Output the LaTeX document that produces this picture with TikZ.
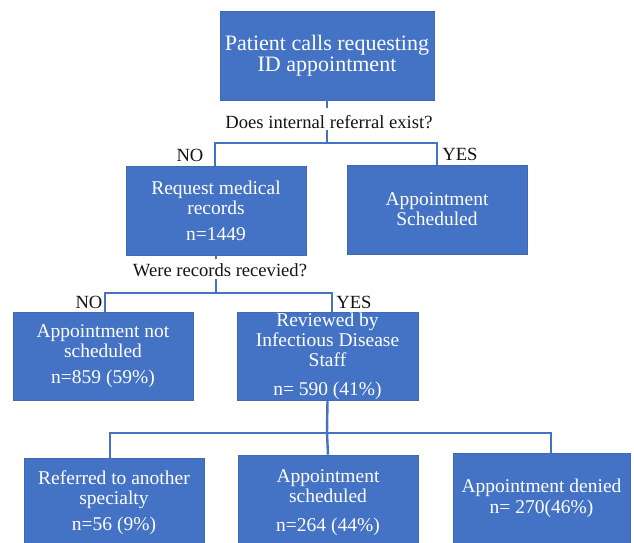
\documentclass[tikz,border=0pt]{standalone}
\usepackage{fontspec}
\setmainfont{Liberation Serif}
\definecolor{boxblue}{HTML}{4472C4}
\definecolor{boxedge}{HTML}{3F69B5}
\definecolor{labelink}{HTML}{141414}
\newcommand{\liftup}[2]{\raisebox{0pt}[\height][\dimexpr\depth+#1\relax]{#2}}
\tikzset{
  flowbox/.style={rectangle, fill=boxblue, draw=boxedge, line width=0.6pt,
    text=white, align=center, inner sep=0pt,
    font=\fontsize{19.5}{20}\selectfont},
  qlabel/.style={text=labelink, inner sep=0pt, font=\fontsize{18.6}{20}\selectfont},
  link/.style={draw=boxblue, line width=2.4pt}
}
\begin{document}
\begin{tikzpicture}[x=1pt,y=-1pt]
\path[use as bounding box, clip] (0,0) rectangle (634,543);
\fill[white] (0,0) rectangle (634,543);

% boxes
\node[flowbox, minimum width=214, minimum height=89,
      font=\fontsize{22}{21.5}\selectfont] (top) at (327,55.5)
      {Patient calls requesting\\ID appointment};
\node[flowbox, minimum width=180, minimum height=89] (req) at (216,210.5)
      {Request medical\\records\\[6pt]n=1449};
\node[flowbox, minimum width=180, minimum height=89] (sched) at (437,209.5)
      {Appointment\\Scheduled};
\node[flowbox, minimum width=180, minimum height=88] (notsch) at (103,356)
      {Appointment not\\scheduled\\[6pt]n=859 (59\%)};
\node[flowbox, minimum width=181, minimum height=88] (rev) at (327.5,356)
      {Reviewed by\\Infectious Disease\\Staff\\[9pt]n= 590 (41\%)};
\node[flowbox, minimum width=180, minimum height=100] (ref) at (114,508)
      {\liftup{10pt}{\begin{tabular}{@{}c@{}}Referred to another\\specialty\\[6pt]n=56 (9\%)\end{tabular}}};
\node[flowbox, minimum width=180, minimum height=100] (appt) at (328,505)
      {\liftup{4pt}{\begin{tabular}{@{}c@{}}Appointment\\scheduled\\[9pt]n=264 (44\%)\end{tabular}}};
\node[flowbox, minimum width=177, minimum height=100] (denied) at (541.5,503)
      {\liftup{8pt}{\begin{tabular}{@{}c@{}}Appointment denied\\[1pt]n= 270(46\%)\end{tabular}}};

% question labels and branch labels
\node[qlabel] (q1) at (329,122) {Does internal referral exist?};
\node[qlabel] (q2) at (220,270) {Were records recevied?};
\node[qlabel] (no1) at (190,155) {NO};
\node[qlabel] (yes1) at (460,154) {YES};
\node[qlabel] (no2) at (89,302) {NO};
\node[qlabel] (yes2) at (354,302) {YES};

% junction coordinates
\coordinate (j1) at (327,143);
\coordinate (j2) at (216,293);
\coordinate (j3) at (327,433);

% connectors
\draw[link] (top.south) -- ++(0,8);
\draw[link] (j1 |- q1.south) ++(0,1) -- (j1);
\draw[link] (j1) -| ([xshift=-1pt]req.north);
\draw[link] (j1) -| (sched.north);

\draw[link] (req.south) -- ++(0,4);
\draw[link] (j2 |- q2.south) ++(0,2) -- (j2);
\draw[link] (j2) -| ([xshift=2pt]notsch.north);
\draw[link] (j2) -| ([xshift=4.5pt]rev.north);

\draw[link] (rev.south) -- (j3);
\draw[link] (j3) -| ([xshift=-4pt]ref.north);
\draw[link] (j3) -- (appt.north);
\draw[link] (j3) -| ([xshift=9.5pt]denied.north);
\end{tikzpicture}
\end{document}
